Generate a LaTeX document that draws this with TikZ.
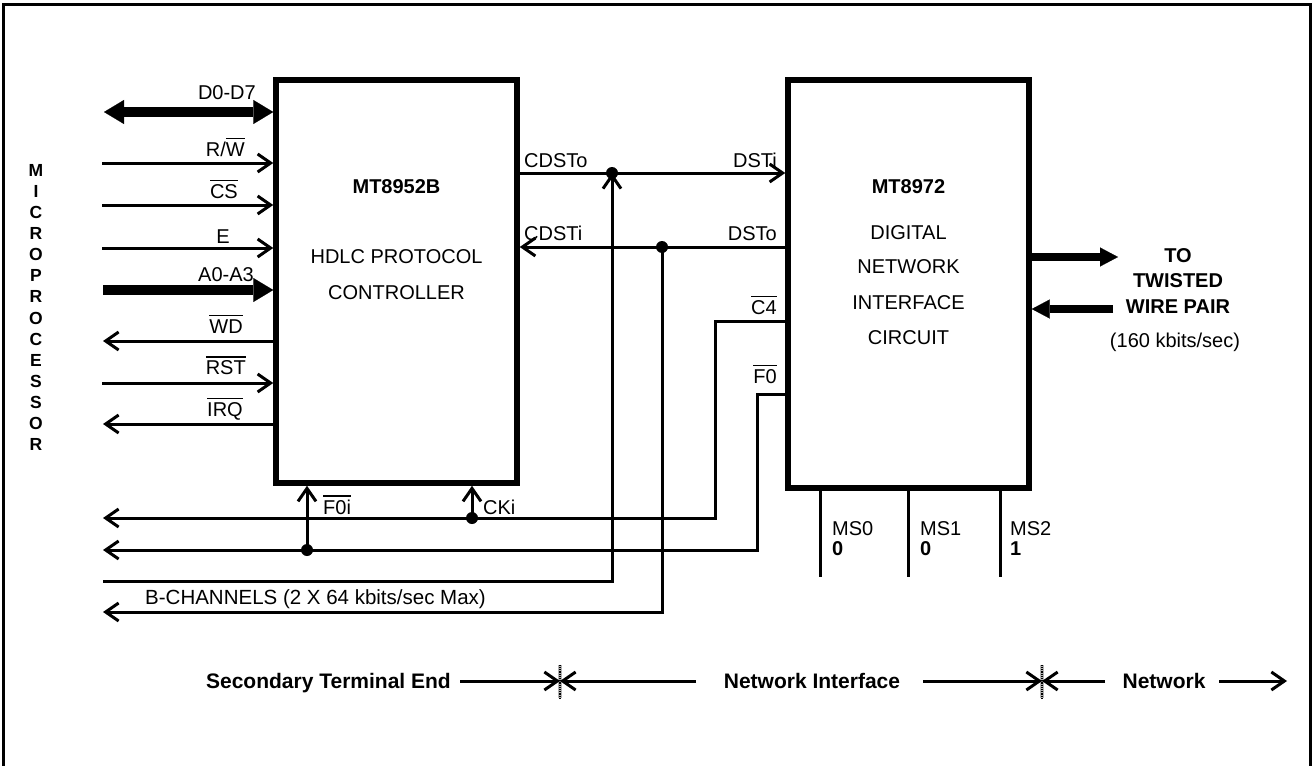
\documentclass[tikz,border=0pt]{standalone}
\usepackage{fontspec}
\setmainfont{Liberation Sans}
\usetikzlibrary{arrows.meta}
\newcommand\ovl[1]{\vbox{\hrule height 1.5pt\kern 3pt\hbox{#1}}}
\newcommand\lblfs{\fontsize{20}{24}\selectfont}
\newcommand\legfs{\fontsize{21}{25}\selectfont}
\newcommand\mpfs{\fontsize{17.5}{20}\selectfont}
\begin{document}
\begin{tikzpicture}[x=1pt,y=-1pt,
  chip/.style={draw,line width=5.5pt,inner sep=0pt},
  lbl/.style={inner sep=0pt,font=\lblfs},
  blbl/.style={inner sep=0pt,font=\lblfs\bfseries},
  leg/.style={inner sep=0pt,font=\legfs\bfseries},
  wire/.style={line width=3pt},
  barb/.style={-{Straight Barb[length=13pt,width=18pt]}},
  busone/.style={line width=8pt,-{Triangle[length=18pt,width=19pt,line width=0.1pt]}},
  bustwo/.style={line width=10.5pt,{Triangle[length=20pt,width=24pt,line width=0.1pt]}-{Triangle[length=20pt,width=24pt,line width=0.1pt]}},
  busin/.style={line width=10.5pt,-{Triangle[length=20pt,width=24pt,line width=0.1pt]}},
  jdot/.style={fill=black},
  divider/.style={draw=none,fill=gray!60,minimum width=4pt,minimum height=33pt,inner sep=0pt}
]
\useasboundingbox (0,0) rectangle (1313,765);
% outer frame
\draw[line width=3pt] (3,770) -- (3,5) -- (1310,5) -- (1310,770);

% chips
\node[chip,minimum width=241pt,minimum height=403pt] (hdlc) at (396.5,281.5) {};
\node[chip,minimum width=241pt,minimum height=408pt] (nic) at (908.5,284) {};

\node[blbl,anchor=base] (t1) at (396.5,193) {MT8952B};
\node[lbl,anchor=base] (t2) at (396.5,263) {HDLC PROTOCOL};
\node[lbl,anchor=base] (t3) at (396.5,299) {CONTROLLER};
\node[blbl,anchor=base] (t4) at (908.5,193) {MT8972};
\node[lbl,anchor=base] (t5) at (908.5,239) {DIGITAL};
\node[lbl,anchor=base] (t6) at (908.5,273) {NETWORK};
\node[lbl,anchor=base] (t7) at (908.5,309) {INTERFACE};
\node[lbl,anchor=base] (t8) at (908.5,344) {CIRCUIT};

% microprocessor label
\foreach \ch [count=\i from 0] in {M,I,C,R,O,P,R,O,C,E,S,S,O,R}
  \node[inner sep=0pt,font=\mpfs\bfseries,anchor=base] (mp\i) at (36,{176+\i*21.15}) {\ch};

% left side signals
\coordinate (lD) at (104,112);
\coordinate (lRW) at (102,163);
\coordinate (lCS) at (102,205);
\coordinate (lE) at (102,248);
\coordinate (lA) at (103,290);
\coordinate (lWD) at (103,341);
\coordinate (lRST) at (102,383);
\coordinate (lIRQ) at (103,424);
\draw[bustwo] (lD) -- (lD -| hdlc.west);
\draw[wire,barb] (lRW) -- (lRW -| hdlc.west);
\draw[wire,barb] (lCS) -- (lCS -| hdlc.west);
\draw[wire,barb] (lE) -- (lE -| hdlc.west);
\draw[busin] (lA) -- (lA -| hdlc.west);
\draw[wire,barb] (lWD -| hdlc.west) -- (lWD);
\draw[wire,barb] (lRST) -- (lRST -| hdlc.west);
\draw[wire,barb] (lIRQ -| hdlc.west) -- (lIRQ);

\node[lbl,anchor=base east] (nD) at (256,100) {D0-D7};
\node[lbl,anchor=base east] (nRW) at (245,156) {R/\ovl{W}};
\node[lbl,anchor=base east] (nCS) at (238,198) {\ovl{CS}};
\node[lbl,anchor=base east] (nE) at (230,243) {E};
\node[lbl,anchor=base east] (nA) at (254,281) {A0-A3};
\node[lbl,anchor=base east] (nWD) at (243,333) {\ovl{WD}};
\node[lbl,anchor=base east] (nRST) at (246,374.5) {\ovl{RST}};
\node[lbl,anchor=base east] (nIRQ) at (243,416) {\ovl{IRQ}};

% middle connections
\coordinate (j1) at (612,173);
\coordinate (j2) at (662,247);
\coordinate (c4) at (715,321);
\coordinate (f0) at (757,394);
\coordinate (j3) at (472,518);
\coordinate (j4) at (307,550);
\coordinate (b1) at (103,518);
\coordinate (b2) at (103,550);
\coordinate (b3) at (103,581);
\coordinate (b4) at (103,612);

\draw[wire,barb] (j1 -| hdlc.east) -- (j1 -| nic.west);
\draw[wire,barb] (j2 -| nic.west) -- (j2 -| hdlc.east);
\draw[wire,barb] (b3) -- (b3 -| j1) -- (j1);
\draw[wire,barb] (j2) -- (j2 |- b4) -- (b4);
\draw[wire,barb] (c4 -| nic.west) -- (c4) -- (c4 |- b1) -- (b1);
\draw[wire,barb] (f0 -| nic.west) -- (f0) -- (f0 |- b2) -- (b2);
\draw[wire,barb] (j3) -- (j3 |- hdlc.south);
\draw[wire,barb] (j4) -- (j4 |- hdlc.south);
\foreach \j in {j1,j2,j3,j4} \fill[jdot] (\j) circle (6pt);

\node[lbl,anchor=base west] (nCDSTo) at (524,167) {CDSTo};
\node[lbl,anchor=base east] (nDSTi) at (777,167) {DSTi};
\node[lbl,anchor=base west] (nCDSTi) at (524,240) {CDSTi};
\node[lbl,anchor=base east] (nDSTo) at (777,240) {DSTo};
\node[lbl,anchor=base east] (nC4) at (777,314) {\ovl{C4}};
\node[lbl,anchor=base east] (nF0) at (777,383) {\ovl{F0}};
\node[lbl,anchor=base west] (nF0i) at (323,514) {\ovl{F0i}};
\node[lbl,anchor=base west] (nCKi) at (483,514) {CKi};
\node[lbl,anchor=base west,font=\fontsize{20.5}{24}\selectfont] (nBch) at (145,604.5) {B-CHANNELS (2 X 64 kbits/sec Max)};

% twisted pair
\coordinate (tw1) at (1118,257);
\coordinate (tw2) at (1113,309);
\draw[busone] (tw1 -| nic.east) -- (tw1);
\draw[busone] (tw2) -- (tw2 -| nic.east);
\node[blbl,anchor=base] (r1) at (1178,262) {TO};
\node[blbl,anchor=base] (r2) at (1178,287) {TWISTED};
\node[blbl,anchor=base] (r3) at (1178,313) {WIRE PAIR};
\node[lbl,anchor=base] (r4) at (1175,347) {(160 kbits/sec)};

% mode select pins
\coordinate (m0) at (820,577);
\coordinate (m1) at (908,577);
\coordinate (m2) at (1000,577);
\draw[wire] (m0 |- nic.south) -- (m0);
\draw[wire] (m1 |- nic.south) -- (m1);
\draw[wire] (m2 |- nic.south) -- (m2);
\node[lbl,anchor=base west] (ms0) at (832,535) {MS0};
\node[blbl,anchor=base west] (v0) at (832,555) {0};
\node[lbl,anchor=base west] (ms1) at (920,535) {MS1};
\node[blbl,anchor=base west] (v1) at (920,555) {0};
\node[lbl,anchor=base west] (ms2) at (1010,535) {MS2};
\node[blbl,anchor=base west] (v2) at (1010,555) {1};

% legend
\node[divider] (d1) at (560,681.5) {};
\node[divider] (d2) at (1042,681.5) {};
\draw[densely dotted,line width=1.2pt] (d1.north) -- (d1.south);
\draw[densely dotted,line width=1.2pt] (d2.north) -- (d2.south);
\node[leg,anchor=base east] (ste) at (451,688) {Secondary Terminal End};
\node[leg,anchor=base] (ni) at (812,688) {Network Interface};
\node[leg,anchor=base] (nw) at (1164,688) {Network};
\coordinate (a1) at (460,681);
\coordinate (a2) at (696,681);
\coordinate (a3) at (923,681);
\coordinate (a4) at (1105,681);
\coordinate (a5) at (1219,681);
\coordinate (nend) at (1287,681);
\draw[wire,barb] (a1) -- (a1 -| d1.center);
\draw[wire,barb] (a2) -- (a2 -| d1.center);
\draw[wire,barb] (a3) -- (a3 -| d2.center);
\draw[wire,barb] (a4) -- (a4 -| d2.center);
\draw[wire,barb] (a5) -- (nend);
\end{tikzpicture}
\end{document}
